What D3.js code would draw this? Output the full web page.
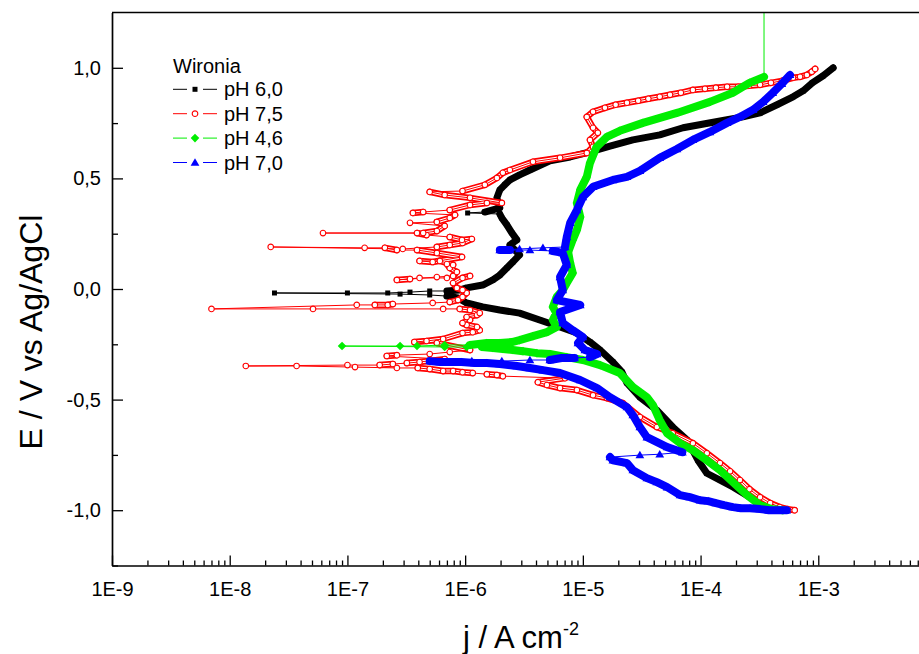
<!DOCTYPE html>
<html>
<head>
<meta charset="utf-8">
<script src="https://cdn.jsdelivr.net/npm/d3@7"></script>
<style>
	html, body { margin: 0; padding: 0; background: #fff; }
	svg { display: block; font-family: "Liberation Sans", Arial, sans-serif; }
</style>
</head>
<body>
<div id="chart"></div>
<script>
// axis ticks as printed
var xTickValues = [1e-9, 1e-8, 1e-7, 1e-6, 1e-5, 1e-4, 1e-3];
var xTickLabels = ["1E-9", "1E-8", "1E-7", "1E-6", "1E-5", "1E-4", "1E-3"];
var yTickValues = [-1, -0.5, 0, 0.5, 1];
var yTickLabels = ["-1,0", "-0,5", "0,0", "0,5", "1,0"];

var legendTitle = "Wironia";
var seriesNames = ["pH 6,0", "pH 7,5", "pH 4,6", "pH 7,0"];

// [j / A cm-2, E / V], in scan order (-1.0 V -> +1.0 V)
var ph60 = [[4.0e-4,-1.000],[2.9e-4,-0.955],[1.9e-4,-0.896],[1.13e-4,-0.833],[9.5e-5,-0.774],[7.7e-5,-0.683],[5.8e-5,-0.624],[4.25e-5,-0.548],[3.05e-5,-0.489],[2.37e-5,-0.425],[2.15e-5,-0.376],[1.8e-5,-0.330],[1.4e-5,-0.276],[1.15e-5,-0.240],[8.9e-6,-0.199],[6.4e-6,-0.172],[4.3e-6,-0.140],[2.9e-6,-0.109],[1.97e-6,-0.095],[1.41e-6,-0.081],[1.03e-6,-0.063],[8.7e-7,-0.041],[7.0e-7,-0.032],[5.0e-7,-0.027],[2.8e-7,-0.023],[2.4e-8,-0.018],[1.0e-7,-0.018],[2.2e-7,-0.018],[3.4e-7,-0.014],[5.0e-7,-0.009],[7.0e-7,-0.009],[9.0e-7,-0.005],[1.03e-6,0.005],[1.41e-6,0.018],[1.72e-6,0.041],[1.97e-6,0.063],[2.26e-6,0.095],[2.54e-6,0.122],[2.9e-6,0.154],[2.65e-6,0.176],[2.4e-6,0.199],[2.75e-6,0.222],[2.5e-6,0.253],[2.26e-6,0.290],[2.05e-6,0.321],[1.97e-6,0.339],[1.05e-6,0.344],[1.47e-6,0.348],[1.97e-6,0.367],[1.86e-6,0.412],[1.97e-6,0.448],[2.17e-6,0.471],[2.4e-6,0.493],[2.9e-6,0.516],[3.55e-6,0.538],[5.25e-6,0.579],[7.8e-6,0.597],[1.15e-5,0.620],[1.73e-5,0.647],[2.66e-5,0.674],[4.5e-5,0.697],[7.1e-5,0.729],[1.09e-4,0.747],[1.68e-4,0.765],[2.29e-4,0.778],[3.2e-4,0.796],[4.46e-4,0.833],[6.1e-4,0.869],[7.44e-4,0.896],[8.9e-4,0.932],[1.1e-3,0.964],[1.34e-3,1.000]];

var ph75 = [[6.3e-4,-1.000],[5.5e-4,-0.995],[4.7e-4,-0.986],[3.9e-4,-0.968],[3.2e-4,-0.941],[2.6e-4,-0.905],[2.16e-4,-0.864],[1.78e-4,-0.824],[1.46e-4,-0.787],[1.13e-4,-0.742],[8.6e-5,-0.697],[5.8e-5,-0.652],[4.25e-5,-0.624],[3.05e-5,-0.579],[2.19e-5,-0.516],[1.6e-5,-0.493],[1.22e-5,-0.480],[8.9e-6,-0.457],[6.4e-6,-0.448],[4.95e-6,-0.434],[4.15e-6,-0.421],[7.05e-6,-0.403],[2.09e-6,-0.394],[1.86e-6,-0.389],[1.53e-6,-0.385],[1.16e-6,-0.380],[9.5e-7,-0.376],[7.9e-7,-0.371],[6.5e-7,-0.371],[5.0e-7,-0.362],[3.96e-7,-0.357],[2.63e-7,-0.357],[1.16e-7,-0.353],[3.7e-8,-0.348],[1.37e-8,-0.348],[1.0e-7,-0.344],[1.88e-7,-0.344],[2.43e-7,-0.339],[3.2e-7,-0.335],[4.1e-7,-0.330],[6.7e-7,-0.317],[2.16e-7,-0.303],[2.63e-7,-0.299],[5.0e-7,-0.294],[7.4e-7,-0.285],[1.1e-6,-0.276],[5.75e-7,-0.244],[3.7e-7,-0.240],[4.7e-7,-0.235],[6.5e-7,-0.226],[9.5e-7,-0.199],[1.16e-6,-0.195],[1.33e-6,-0.186],[1.26e-6,-0.172],[1.03e-6,-0.163],[9.5e-7,-0.154],[1.1e-6,-0.140],[1.03e-6,-0.127],[1.26e-6,-0.118],[1.33e-6,-0.109],[1.1e-6,-0.095],[9.0e-7,-0.090],[6.5e-7,-0.090],[5.1e-8,-0.090],[7.0e-9,-0.090],[1.2e-7,-0.072],[1.71e-7,-0.072],[2.2e-7,-0.072],[2.43e-7,-0.068],[5.3e-7,-0.063],[7.4e-7,-0.059],[8.7e-7,-0.050],[9.5e-7,-0.036],[1.03e-6,-0.018],[9.5e-7,-0.005],[8.5e-7,0.005],[7.9e-7,0.027],[9.5e-7,0.050],[1.1e-6,0.059],[7.0e-7,0.050],[4.1e-7,0.050],[2.63e-7,0.041],[3.4e-7,0.045],[5.75e-7,0.054],[7.9e-7,0.059],[8.5e-7,0.077],[7.4e-7,0.095],[7.0e-7,0.113],[7.9e-7,0.109],[6.1e-7,0.127],[4.1e-7,0.127],[5.3e-7,0.122],[9.4e-7,0.145],[5.75e-7,0.163],[3.9e-7,0.176],[2.63e-7,0.176],[2.08e-7,0.186],[1.4e-7,0.186],[2.23e-8,0.190],[2.95e-7,0.181],[5.75e-7,0.190],[7.4e-7,0.199],[9.5e-7,0.208],[1.14e-6,0.226],[9.4e-7,0.222],[7.4e-7,0.235],[4.7e-7,0.244],[3.9e-7,0.253],[6.2e-8,0.253],[4.4e-7,0.253],[5.75e-7,0.262],[6.7e-7,0.285],[3.4e-7,0.299],[5.75e-7,0.303],[7.4e-7,0.321],[8.2e-7,0.335],[3.6e-7,0.344],[4.4e-7,0.348],[7.4e-7,0.357],[1.1e-6,0.380],[1.53e-6,0.389],[2.05e-6,0.389],[1.1e-6,0.412],[6.7e-7,0.425],[5.0e-7,0.439],[9.5e-7,0.443],[1.47e-6,0.471],[1.86e-6,0.502],[2.09e-6,0.525],[2.4e-6,0.538],[3.77e-6,0.575],[6.4e-6,0.593],[1.08e-5,0.615],[1.22e-5,0.643],[1.15e-5,0.674],[1.34e-5,0.706],[1.22e-5,0.729],[1.08e-5,0.778],[1.22e-5,0.801],[1.54e-5,0.819],[1.9e-5,0.833],[2.37e-5,0.842],[2.95e-5,0.851],[3.6e-5,0.860],[4.5e-5,0.869],[5.5e-5,0.878],[6.8e-5,0.887],[8.6e-5,0.900],[1.09e-4,0.905],[1.35e-4,0.910],[1.68e-4,0.914],[2.08e-4,0.914],[2.58e-4,0.919],[3.2e-4,0.923],[3.96e-4,0.932],[4.9e-4,0.941],[6.1e-4,0.955],[7.0e-4,0.959],[8.0e-4,0.968],[8.8e-4,0.982],[9.4e-4,0.995]];

var ph46 = [[5.0e-4,-1.000],[4.0e-4,-0.995],[3.2e-4,-0.977],[2.48e-4,-0.932],[1.88e-4,-0.873],[1.46e-4,-0.819],[1.13e-4,-0.774],[8.6e-5,-0.729],[6.7e-5,-0.697],[5.2e-5,-0.652],[4.5e-5,-0.593],[3.94e-5,-0.525],[3.5e-5,-0.489],[2.66e-5,-0.443],[2.06e-5,-0.380],[1.4e-5,-0.344],[1.0e-5,-0.321],[7.3e-6,-0.308],[5.25e-6,-0.294],[4.07e-6,-0.290],[3.1e-6,-0.281],[2.54e-6,-0.276],[2.09e-6,-0.271],[1.72e-6,-0.267],[1.39e-6,-0.262],[1.03e-6,-0.262],[6.7e-7,-0.262],[9.0e-8,-0.258],[2.8e-7,-0.258],[3.9e-7,-0.258],[6.7e-7,-0.253],[1.1e-6,-0.253],[1.53e-6,-0.244],[1.97e-6,-0.244],[2.5e-6,-0.240],[2.9e-6,-0.231],[3.77e-6,-0.213],[4.95e-6,-0.195],[6.0e-6,-0.172],[5.56e-6,-0.140],[5.95e-6,-0.109],[5.56e-6,-0.081],[6.0e-6,-0.036],[6.75e-6,-0.005],[7.3e-6,0.027],[8.2e-6,0.072],[7.8e-6,0.118],[7.5e-6,0.167],[8.2e-6,0.222],[8.9e-6,0.267],[9.5e-6,0.326],[8.9e-6,0.389],[9.5e-6,0.448],[1.08e-5,0.507],[1.15e-5,0.570],[1.31e-5,0.643],[1.6e-5,0.688],[2.06e-5,0.715],[3.24e-5,0.751],[6.3e-5,0.796],[1.2e-4,0.846],[1.88e-4,0.887],[2.6e-4,0.932],[3.46e-4,0.959],[3.46e-4,1.6]];

var ph70 = [[5.4e-4,-1.000],[4.55e-4,-1.000],[3.8e-4,-1.000],[3.2e-4,-0.995],[2.63e-4,-0.991],[2.2e-4,-0.991],[1.88e-4,-0.986],[1.58e-4,-0.977],[1.35e-4,-0.968],[1.16e-4,-0.959],[9.9e-5,-0.955],[8.1e-5,-0.941],[6.7e-5,-0.932],[5.2e-5,-0.896],[4.25e-5,-0.873],[3.5e-5,-0.855],[2.66e-5,-0.819],[2.37e-5,-0.787],[1.8e-5,-0.774],[1.7e-5,-0.760],[3.05e-5,-0.751],[4.5e-5,-0.747],[7.0e-5,-0.738],[5.2e-5,-0.715],[3.5e-5,-0.670],[3.05e-5,-0.624],[2.66e-5,-0.570],[2.37e-5,-0.534],[1.7e-5,-0.489],[1.32e-5,-0.448],[9.5e-6,-0.412],[6.4e-6,-0.380],[4.58e-6,-0.367],[3.55e-6,-0.357],[2.75e-6,-0.348],[1.97e-6,-0.339],[1.53e-6,-0.335],[1.2e-6,-0.335],[9.3e-7,-0.330],[7.4e-7,-0.330],[6.1e-7,-0.330],[5.0e-7,-0.326],[1.14e-6,-0.326],[2.05e-6,-0.326],[3.55e-6,-0.321],[5.25e-6,-0.321],[6.6e-6,-0.312],[8.5e-6,-0.312],[1.15e-5,-0.308],[1.32e-5,-0.294],[1.04e-5,-0.276],[9.1e-6,-0.244],[1.0e-5,-0.217],[8.2e-6,-0.186],[6.75e-6,-0.154],[6.4e-6,-0.104],[9.5e-6,-0.072],[6.0e-6,-0.050],[6.75e-6,-0.005],[6.4e-6,0.054],[7.3e-6,0.109],[6.75e-6,0.163],[5.55e-6,0.172],[3.55e-6,0.176],[2.4e-6,0.176],[1.97e-6,0.176],[2.9e-6,0.181],[4.58e-6,0.186],[7.05e-6,0.190],[7.3e-6,0.235],[7.8e-6,0.299],[8.9e-6,0.357],[1.0e-5,0.416],[1.22e-5,0.462],[1.8e-5,0.493],[2.37e-5,0.507],[3.05e-5,0.534],[4.5e-5,0.593],[6.3e-5,0.633],[8.6e-5,0.674],[1.2e-4,0.710],[1.68e-4,0.751],[2.16e-4,0.778],[2.79e-4,0.810],[3.4e-4,0.846],[4.1e-4,0.887],[4.9e-4,0.928],[5.75e-4,0.968]];

var width = 919, height = 654;
var plotLeft = 112, plotTop = 12.5, plotBottom = 565.5;

var svg = d3.select("#chart").append("svg").attr("width", width).attr("height", height);

// the x axis runs on to 1E-2, past the right edge of the picture
var x = d3.scaleLog().domain([1e-9, 1e-2]).range([plotLeft, 936]);
var y = d3.scaleLinear().domain([-1.25, 1.25]).range([plotBottom, plotTop]);

var series = [
	{ name: seriesNames[0], data: ph60, color: "#000000", band: 7, shape: "square" },
	{ name: seriesNames[1], data: ph75, color: "#ff0000", band: 6.5, shape: "circle" },
	{ name: seriesNames[2], data: ph46, color: "#00ee00", band: 8, shape: "diamond" },
	{ name: seriesNames[3], data: ph70, color: "#0000ff", band: 8, shape: "triangle" }
];

var shapes = {
	square: "M-2.5,-2.5h5v5h-5Z",
	diamond: "M0,-4.3L4.3,0L0,4.3L-4.3,0Z",
	triangle: "M0,-4.3L4.4,3.2L-4.4,3.2Z"
};

var line = d3.line().x(function(d){ return x(d[0]); }).y(function(d){ return y(d[1]); });

// a step of the scan is packed with markers unless it jumps far in j at almost the same E
function dense(a, b){
	var dx = Math.abs(x(b[0]) - x(a[0])), dy = Math.abs(y(b[1]) - y(a[1]));
	if(Math.sqrt(dx * dx + dy * dy) > 40) return false;
	return !(dx > 14 && dy < 0.1 * dx);
}

function runsOf(data){
	var runs = [], cur = null;
	for(var i = 1; i < data.length; i++){
		if(dense(data[i - 1], data[i])){
			if(!cur){ cur = [data[i - 1]]; runs.push(cur); }
			cur.push(data[i]);
		}else{
			cur = null;
		}
	}
	return runs;
}

function addMarker(sel, s){
	if(s.shape === "circle"){
		sel.append("circle").attr("r", 2.8).attr("fill", "#fff").attr("stroke", s.color).attr("stroke-width", 1.1);
	}else{
		sel.append("path").attr("d", shapes[s.shape]).attr("fill", s.color);
	}
}

svg.append("clipPath").attr("id", "plotclip")
	.append("rect").attr("x", plotLeft).attr("y", plotTop).attr("width", 830).attr("height", plotBottom - plotTop);

var plot = svg.append("g").attr("clip-path", "url(#plotclip)");

series.forEach(function(s){
	var g = plot.append("g");
	var runs = runsOf(s.data);
	g.selectAll("path.band").data(runs).join("path").attr("class", "band")
		.attr("d", line).attr("fill", "none").attr("stroke", s.color)
		.attr("stroke-width", s.band).attr("stroke-linejoin", "round").attr("stroke-linecap", "round");
	if(s.shape === "circle"){
		g.selectAll("path.hole").data(runs).join("path").attr("class", "hole")
			.attr("d", line).attr("fill", "none").attr("stroke", "#fff")
			.attr("stroke-width", 3).attr("stroke-linejoin", "round").attr("stroke-linecap", "round");
	}
	g.append("path").datum(s.data).attr("d", line).attr("fill", "none")
		.attr("stroke", s.color).attr("stroke-width", 1);
	g.selectAll("g.pt").data(s.data).join("g").attr("class", "pt")
		.attr("transform", function(d){ return "translate(" + x(d[0]) + "," + y(d[1]) + ")"; })
		.each(function(){ addMarker(d3.select(this), s); });
});

// axes, ticks pointing inwards
var xMinor = x.ticks().filter(function(v){
	var e = Math.log10(v);
	return Math.abs(e - Math.round(e)) > 1e-6;
});

svg.append("g").attr("transform", "translate(0," + plotBottom + ")")
	.call(d3.axisBottom(x).tickValues(xMinor).tickSizeInner(-5).tickSizeOuter(0).tickFormat(""))
	.call(function(g){ g.select(".domain").remove(); g.selectAll("line").attr("stroke-width", 1.3); });

svg.append("g").attr("transform", "translate(0," + plotBottom + ")")
	.call(d3.axisBottom(x).tickValues(xTickValues).tickSizeInner(-10).tickSizeOuter(0).tickPadding(16)
		.tickFormat(function(d, i){ return xTickLabels[i]; }))
	.call(function(g){
		g.select(".domain").attr("stroke-width", 1.7);
		g.selectAll("line").attr("stroke-width", 1.3);
		g.selectAll("text").attr("font-size", 20).attr("font-family", null).attr("fill", "#000");
	});

var yMinor = [-1.25, -0.75, -0.25, 0.25, 0.75];
svg.append("g").attr("transform", "translate(" + plotLeft + ",0)")
	.call(d3.axisLeft(y).tickValues(yMinor).tickSizeInner(-6).tickSizeOuter(0).tickFormat(""))
	.call(function(g){ g.select(".domain").remove(); g.selectAll("line").attr("stroke-width", 1.3); });

svg.append("g").attr("transform", "translate(" + plotLeft + ",0)")
	.call(d3.axisLeft(y).tickValues(yTickValues).tickSizeInner(-11).tickSizeOuter(0).tickPadding(11)
		.tickFormat(function(d, i){ return yTickLabels[i]; }))
	.call(function(g){
		g.select(".domain").attr("stroke-width", 1.7);
		g.selectAll("line").attr("stroke-width", 1.3);
		g.selectAll("text").attr("font-size", 20).attr("font-family", null).attr("fill", "#000");
	});

svg.append("line").attr("x1", plotLeft).attr("x2", width).attr("y1", plotTop).attr("y2", plotTop)
	.attr("stroke", "#000").attr("stroke-width", 1.7);

// axis titles
svg.append("text").attr("transform", "rotate(-90)").attr("x", -332).attr("y", 42)
	.attr("text-anchor", "middle").attr("font-size", 32).text("E / V vs Ag/AgCl");

var xt = svg.append("text").attr("x", 463).attr("y", 648).attr("font-size", 31);
xt.append("tspan").text("j / A cm");
xt.append("tspan").attr("font-size", 18).attr("dy", -13).text("-2");

// legend
var legend = svg.append("g");
legend.append("text").attr("x", 173).attr("y", 73).attr("font-size", 20).text(legendTitle);
series.forEach(function(s, i){
	var cy = 89.3 + i * 24.4;
	var row = legend.append("g");
	row.append("line").attr("x1", 173).attr("x2", 187).attr("y1", cy).attr("y2", cy).attr("stroke", s.color).attr("stroke-width", 1);
	row.append("line").attr("x1", 203).attr("x2", 217).attr("y1", cy).attr("y2", cy).attr("stroke", s.color).attr("stroke-width", 1);
	addMarker(row.append("g").attr("transform", "translate(195," + cy + ")"), s);
	row.append("text").attr("x", 224).attr("y", cy + 7).attr("font-size", 20).text(s.name);
});
</script>
</body>
</html>
